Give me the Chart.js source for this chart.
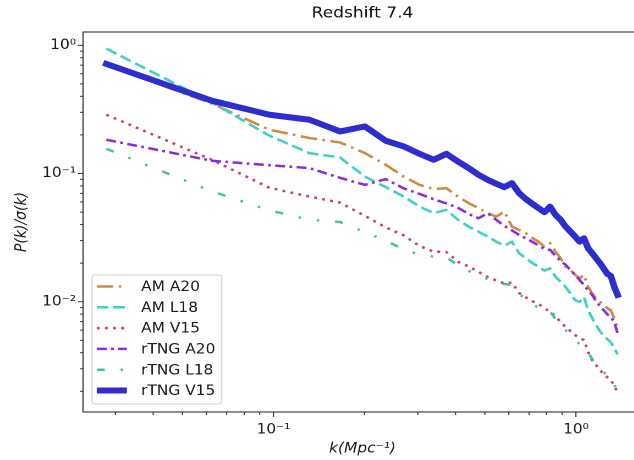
<!DOCTYPE html>
<html>
<head>
<meta charset="utf-8">
<script src="https://cdn.jsdelivr.net/npm/chart.js@4.4.1/dist/chart.umd.min.js"></script>
<style>
  html, body { margin: 0; padding: 0; background: #fff; overflow: hidden; }
  #wrap { width: 600px; height: 460px; transform: scaleX(1.1); transform-origin: 0 0; }
</style>
</head>
<body>
<div id="wrap"><canvas id="psChart" width="600" height="460"></canvas></div>
<script>
// k bins (Mpc^-1)
const kValues = [0.028, 0.0625, 0.097, 0.1315, 0.166, 0.2005, 0.235, 0.2695, 0.304, 0.3385,
  0.373, 0.4075, 0.442, 0.4765, 0.511, 0.5455, 0.58, 0.6145, 0.649, 0.6835,
  0.718, 0.7525, 0.787, 0.8215, 0.856, 0.8905, 0.925, 0.9595, 0.994, 1.0285,
  1.063, 1.0975, 1.132, 1.1665, 1.201, 1.2355, 1.27, 1.3045, 1.339, 1.3735];

// P(k)/sigma(k) per model
const amA20 = [0.70, 0.352, 0.2195, 0.189, 0.1747, 0.1443, 0.1169, 0.0947, 0.0816, 0.0755,
  0.0769, 0.0661, 0.0587, 0.0537, 0.0491, 0.0461, 0.0505, 0.0385, 0.0363, 0.0342,
  0.0313, 0.0294, 0.0269, 0.0286, 0.0246, 0.0218, 0.0188, 0.0177, 0.0162, 0.0152,
  0.0162, 0.0131, 0.0116, 0.0106, 0.0100, 0.0094, 0.0089, 0.0086, 0.0074, 0.0062];
const amL18 = [0.942, 0.359, 0.197, 0.1443, 0.1334, 0.0947, 0.0783, 0.0661, 0.0552, 0.0491,
  0.0520, 0.0435, 0.0385, 0.0352, 0.0322, 0.0294, 0.0274, 0.0294, 0.0239, 0.0218,
  0.0200, 0.0188, 0.0175, 0.0182, 0.0157, 0.0143, 0.0130, 0.0116, 0.0103, 0.00995,
  0.0109, 0.0086, 0.00746, 0.00658, 0.0059, 0.0054, 0.00511, 0.00484, 0.00435, 0.0039];
const amV15 = [0.2874, 0.128, 0.0773, 0.0661, 0.0593, 0.0467, 0.038, 0.0329, 0.0272, 0.0246,
  0.0244, 0.0205, 0.01884, 0.0171, 0.0156, 0.01465, 0.01387, 0.0141, 0.0117, 0.0108,
  0.0101, 0.0096, 0.00893, 0.00831, 0.00773, 0.00694, 0.00634, 0.0059, 0.0055, 0.0052,
  0.00502, 0.00405, 0.0035, 0.0032, 0.00293, 0.00272, 0.00258, 0.00245, 0.00223, 0.00194];
const rtngA20 = [0.1834, 0.1258, 0.116, 0.1102, 0.0926, 0.0816, 0.0904, 0.0766, 0.0694, 0.0629,
  0.0585, 0.054, 0.0484, 0.0448, 0.049, 0.0435, 0.039, 0.036, 0.0332, 0.0312,
  0.0293, 0.0275, 0.0258, 0.0254, 0.0228, 0.0208, 0.0194, 0.0177, 0.0162, 0.0148,
  0.0135, 0.0123, 0.0113, 0.0101, 0.00925, 0.0086, 0.0080, 0.0076, 0.00694, 0.0057];
const rtngL18 = [0.156, 0.0726, 0.0516, 0.0435, 0.0419, 0.035, 0.0298, 0.0258, 0.0232, 0.0225,
  0.0221, 0.0194, 0.0174, 0.016, 0.01504, 0.01404, 0.01374, 0.0135, 0.0115, 0.0105,
  0.0096, 0.00893, 0.0083, 0.00838, 0.00733, 0.00658, 0.006, 0.0055, 0.00502, 0.00467,
  0.00442, 0.00405, 0.00357, 0.00326, 0.00303, 0.00282, 0.00267, 0.00258, 0.00228, 0.00194];
const rtngV15 = [0.716, 0.370, 0.2874, 0.2627, 0.2129, 0.2329, 0.1801, 0.1626, 0.1425, 0.128,
  0.1425, 0.124, 0.1102, 0.0977, 0.0893, 0.0831, 0.0783, 0.0841, 0.0703, 0.0631,
  0.058, 0.0537, 0.0499, 0.0552, 0.0476, 0.0435, 0.0385, 0.0352, 0.0322, 0.0294,
  0.0313, 0.0261, 0.0239, 0.0218, 0.02, 0.0182, 0.0165, 0.0159, 0.0131, 0.0113];

const seriesLabels = ['AM A20', 'AM L18', 'AM V15', 'rTNG A20', 'rTNG L18', 'rTNG V15'];
const seriesValues = [amA20, amL18, amV15, rtngA20, rtngL18, rtngV15];

// axis ticks
const xMajorTicks = [0.1, 1];
const xTickLabels = ['10⁻¹', '10⁰'];
const xMinorTicks = [0.03, 0.04, 0.05, 0.06, 0.07, 0.08, 0.09, 0.2, 0.3, 0.4, 0.5, 0.6, 0.7, 0.8, 0.9];
const yMajorTicks = [0.01, 0.1, 1];
const yTickLabels = ['10⁻²', '10⁻¹', '10⁰'];
const yMinorTicks = [0.002, 0.003, 0.004, 0.005, 0.006, 0.007, 0.008, 0.009,
  0.02, 0.03, 0.04, 0.05, 0.06, 0.07, 0.08, 0.09, 0.2, 0.3, 0.4, 0.5, 0.6, 0.7, 0.8, 0.9];

// styles
const FONT = 'DejaVu Sans';
const seriesColors = ['#d08a3c', '#42cfc7', '#d43d7a', '#8a2be2', '#3fcc8a', '#2d2dd0'];
const seriesWidths = [2.5, 2.5, 2.5, 2.5, 2.5, 6];
const seriesDashes = [[15, 5, 2.3, 5], [10.5, 4.5], [2.6, 4.8], [9, 4, 2.5, 4], [7.3, 14.5, 2.3, 14.5, 2.3, 14.5], []];

const datasets = seriesLabels.map((label, i) => ({
  label,
  data: kValues.map((k, j) => ({ x: k, y: seriesValues[i][j] })),
  borderColor: seriesColors[i],
  borderWidth: seriesWidths[i],
  borderDash: seriesDashes[i],
  borderCapStyle: i === 5 ? 'square' : 'butt',
  borderJoinStyle: 'round',
  pointRadius: 0,
  fill: false,
  tension: 0,
  order: seriesLabels.length - i
}));

function setTicks(major, minor) {
  return (scale) => {
    scale.ticks = major.concat(minor).sort((a, b) => a - b)
      .map(v => ({ value: v, major: major.includes(v) }));
  };
}

// box frame plus matplotlib-like outward ticks (long major, short minor)
const frameAndTicks = {
  id: 'frameAndTicks',
  afterDraw(chart) {
    const { ctx, chartArea: a, scales } = chart;
    ctx.save();
    ctx.strokeStyle = '#333';
    ctx.lineWidth = 1;
    scales.x.ticks.forEach(t => {
      const px = scales.x.getPixelForValue(t.value);
      const len = t.major ? 5 : 3;
      ctx.beginPath(); ctx.moveTo(px, a.bottom); ctx.lineTo(px, a.bottom + len); ctx.stroke();
    });
    scales.y.ticks.forEach(t => {
      const py = scales.y.getPixelForValue(t.value);
      const len = t.major ? 4.5 : 2.7;
      ctx.beginPath(); ctx.moveTo(a.left, py); ctx.lineTo(a.left - len, py); ctx.stroke();
    });
    ctx.lineWidth = 1.1;
    ctx.strokeRect(a.left, a.top, a.right - a.left, a.bottom - a.top);
    ctx.restore();
  }
};

// legend in the lower left of the axes, line samples keep each dash pattern
const legendBox = {
  id: 'legendBox',
  afterDatasetsDraw(chart) {
    const { ctx, chartArea: a } = chart;
    const boxW = 118, boxH = 129;
    const left = a.left + 8.2, top = a.bottom - 8 - boxH;
    ctx.save();
    ctx.beginPath();
    ctx.roundRect(left, top, boxW, boxH, 3);
    ctx.fillStyle = 'rgba(255,255,255,0.8)';
    ctx.fill();
    ctx.strokeStyle = '#d0d0d0';
    ctx.lineWidth = 1;
    ctx.stroke();
    ctx.font = '14px "' + FONT + '"';
    ctx.textBaseline = 'middle';
    ctx.fillStyle = '#1a1a1a';
    chart.data.datasets.forEach((ds, i) => {
      const y = top + 11.5 + i * 20.8;
      ctx.beginPath();
      ctx.setLineDash(ds.borderDash);
      ctx.lineCap = 'butt';
      ctx.strokeStyle = ds.borderColor;
      ctx.lineWidth = ds.borderWidth;
      ctx.moveTo(left + 4.3, y);
      ctx.lineTo(left + 31.6, y);
      ctx.stroke();
      ctx.setLineDash([]);
      ctx.fillText(ds.label, left + 44.6, y + 1);
    });
    ctx.restore();
  }
};

new Chart(document.getElementById('psChart'), {
  type: 'line',
  data: { datasets },
  options: {
    responsive: false,
    animation: false,
    devicePixelRatio: 2,
    layout: { padding: { left: 0, right: 16.4, top: 0, bottom: 0 } },
    plugins: {
      legend: { display: false },
      tooltip: { enabled: false },
      title: {
        display: true,
        text: 'Redshift 7.4',
        fullSize: false,
        color: '#111',
        font: { family: FONT, size: 15.5, weight: 'normal' },
        padding: { top: 4, bottom: 9.4 }
      }
    },
    scales: {
      x: {
        type: 'logarithmic',
        min: 0.02344,
        max: 1.654,
        afterBuildTicks: setTicks(xMajorTicks, xMinorTicks),
        afterFit: (scale) => { scale.height = 48; },
        grid: { display: false, drawTicks: false },
        border: { display: false },
        ticks: {
          autoSkip: false, maxRotation: 0, minRotation: 0, padding: 9.5,
          color: '#1a1a1a', font: { family: FONT, size: 14 },
          callback: (v) => { const i = xMajorTicks.indexOf(v); return i >= 0 ? xTickLabels[i] : ''; }
        },
        title: {
          display: true, text: 'k(Mpc⁻¹)', color: '#1a1a1a',
          font: { family: FONT, size: 14, style: 'italic' },
          padding: { top: 0, bottom: 2.5 }
        }
      },
      y: {
        type: 'logarithmic',
        min: 0.00138,
        max: 1.27,
        afterBuildTicks: setTicks(yMajorTicks, yMinorTicks),
        afterFit: (scale) => { scale.width = 75.45; },
        grid: { display: false, drawTicks: false },
        border: { display: false },
        ticks: {
          autoSkip: false, padding: 6.4,
          color: '#1a1a1a', font: { family: FONT, size: 14 },
          callback: (v) => { const i = yMajorTicks.indexOf(v); return i >= 0 ? yTickLabels[i] : ''; }
        },
        title: {
          display: true, text: 'P(k)/σ(k)', color: '#1a1a1a',
          font: { family: FONT, size: 14, style: 'italic' },
          padding: { top: 11.6, bottom: 0 }
        }
      }
    }
  },
  plugins: [frameAndTicks, legendBox]
});
</script>
</body>
</html>
